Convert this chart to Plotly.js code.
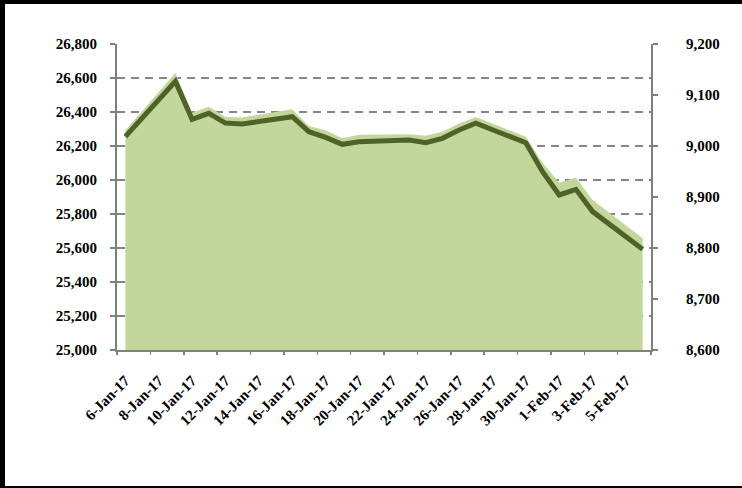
<!DOCTYPE html>
<html>
<head>
<meta charset="utf-8">
<script src="https://cdn.plot.ly/plotly-3.0.1.min.js"></script>
<style>
  html, body { margin: 0; padding: 0; background: #fff; }
  #wrap { position: relative; width: 742px; height: 488px; }
  #chart { position: absolute; left: 0; top: 0; width: 742px; height: 488px; }
  .frame { position: absolute; background: #000; }
</style>
</head>
<body>
<div id="wrap">
  <div id="chart"></div>
  <div class="frame" style="left:0;top:0;width:742px;height:4px;"></div>
  <div class="frame" style="left:0;top:0;width:5px;height:488px;"></div>
  <div class="frame" style="left:0;top:486px;width:742px;height:2px;"></div>
</div>
<script>
// Trading days
const dates = ['2017-01-06','2017-01-09','2017-01-10','2017-01-11','2017-01-12','2017-01-13',
  '2017-01-16','2017-01-17','2017-01-18','2017-01-19','2017-01-20',
  '2017-01-23','2017-01-24','2017-01-25','2017-01-26','2017-01-27',
  '2017-01-30','2017-01-31','2017-02-01','2017-02-02','2017-02-03','2017-02-06'];

// Dark line (left axis)
const lineValues = [26255, 26580, 26357, 26392, 26335, 26330,
  26372, 26284, 26251, 26210, 26225,
  26235, 26219, 26245, 26294, 26334,
  26219, 26049, 25912, 25945, 25814, 25592];

// Light green area (right axis)
const areaValues = [9031, 9143, 9065, 9077, 9057, 9056,
  9072, 9039, 9031, 9015, 9022,
  9023, 9020, 9028, 9044, 9057,
  9018, 8967, 8928, 8938, 8894, 8819];

// Tick labels
const tickDates = ['2017-01-06','2017-01-08','2017-01-10','2017-01-12','2017-01-14','2017-01-16',
  '2017-01-18','2017-01-20','2017-01-22','2017-01-24','2017-01-26','2017-01-28','2017-01-30',
  '2017-02-01','2017-02-03','2017-02-05'];
const tickLabels = ['6-Jan-17','8-Jan-17','10-Jan-17','12-Jan-17','14-Jan-17','16-Jan-17',
  '18-Jan-17','20-Jan-17','22-Jan-17','24-Jan-17','26-Jan-17','28-Jan-17','30-Jan-17',
  '1-Feb-17','3-Feb-17','5-Feb-17'];
const tickBounds = ['2017-01-05 12:00','2017-01-07 12:00','2017-01-09 12:00','2017-01-11 12:00',
  '2017-01-13 12:00','2017-01-15 12:00','2017-01-17 12:00','2017-01-19 12:00','2017-01-21 12:00',
  '2017-01-23 12:00','2017-01-25 12:00','2017-01-27 12:00','2017-01-29 12:00','2017-01-31 12:00',
  '2017-02-02 12:00','2017-02-04 12:00','2017-02-06 12:00'];

const xRange = ['2017-01-05 12:00', '2017-02-06 12:00'];
const font = {family: 'Liberation Serif', size: 15, color: '#000', weight: 'bold'};
const axisGray = '#808080';

const traces = [
  {x: dates, y: areaValues, xaxis: 'x', yaxis: 'y', type: 'scatter', mode: 'lines',
   fill: 'tozeroy', fillcolor: '#C3D69B', line: {width: 0, color: '#C3D69B'},
   hoverinfo: 'skip', showlegend: false},
  {x: dates, y: lineValues, xaxis: 'x', yaxis: 'y2', type: 'scatter', mode: 'lines',
   line: {width: 5, color: '#4F6228'}, hoverinfo: 'skip', showlegend: false},
  {x: [], y: [], xaxis: 'x2', yaxis: 'y', type: 'scatter', mode: 'lines',
   hoverinfo: 'skip', showlegend: false}
];

const layout = {
  width: 742, height: 488,
  margin: {l: 117, r: 91, t: 44, b: 138},
  paper_bgcolor: '#fff', plot_bgcolor: 'rgba(0,0,0,0)',
  font: font,
  showlegend: false,
  xaxis: {
    type: 'date', range: xRange, tickmode: 'array', tickvals: tickDates, ticktext: tickLabels,
    tickangle: -45, ticks: '', showgrid: false, zeroline: false,
    showline: true, linecolor: axisGray, linewidth: 2, tickfont: font,
    ticklabelstandoff: 14
  },
  xaxis2: {
    type: 'date', range: xRange, overlaying: 'x', anchor: 'y', side: 'bottom',
    tickmode: 'array', tickvals: tickBounds, showticklabels: false,
    ticks: 'outside', ticklen: 4, tickwidth: 1.5, tickcolor: axisGray,
    showgrid: false, showline: false, zeroline: false
  },
  yaxis: {
    side: 'right', range: [8600, 9200], dtick: 100, tick0: 8600, tickformat: ',d',
    showgrid: false, zeroline: false, showline: true, linecolor: axisGray, linewidth: 2,
    ticks: 'outside', ticklen: 5, tickwidth: 1.5, tickcolor: axisGray, tickfont: font,
    ticklabelstandoff: 25
  },
  yaxis2: {
    side: 'left', overlaying: 'y', range: [25000, 26800], dtick: 200, tick0: 25000, tickformat: ',d',
    showgrid: true, gridcolor: '#868686', gridwidth: 2, griddash: '8px,6px',
    zeroline: false, showline: true, linecolor: axisGray, linewidth: 2,
    ticks: 'outside', ticklen: 5, tickwidth: 1.5, tickcolor: axisGray, tickfont: font,
    ticklabelstandoff: 10
  }
};

Plotly.newPlot('chart', traces, layout, {displayModeBar: false, staticPlot: true});
</script>
</body>
</html>
